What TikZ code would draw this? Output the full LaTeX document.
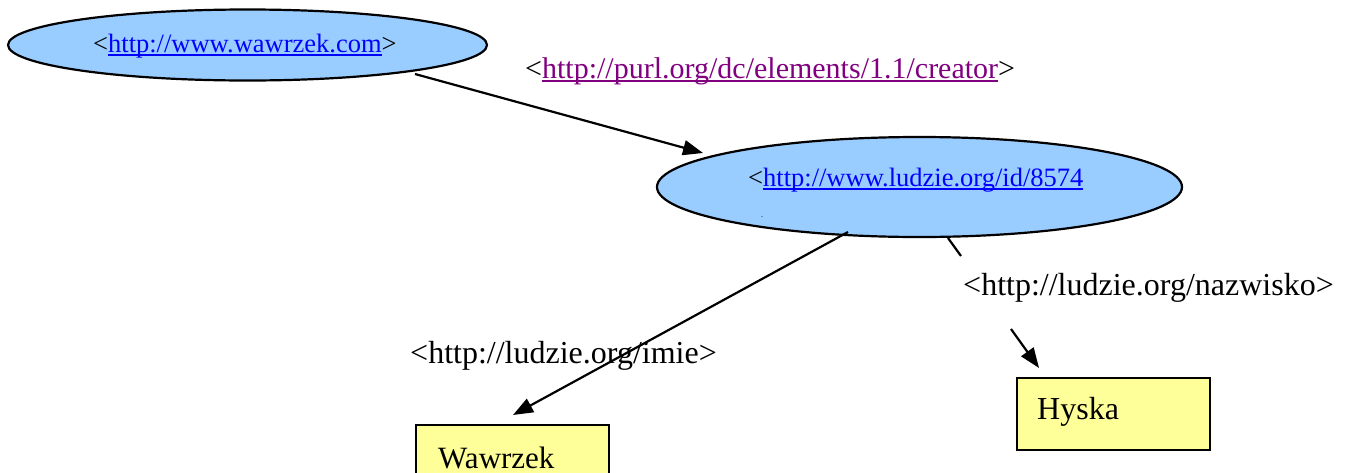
\documentclass[tikz,border=0pt]{standalone}
\usepackage{fontspec}
\setmainfont{Liberation Serif}
\usetikzlibrary{arrows.meta,shapes.geometric}
\definecolor{nodeblue}{RGB}{153,204,255}
\definecolor{lityellow}{RGB}{255,255,153}
\definecolor{linkblue}{RGB}{0,0,255}
\definecolor{linkpurple}{RGB}{128,0,128}
% hyperlink text: coloured, with a rule just below the baseline
\newcommand{\lnk}[2]{\textcolor{#1}{\setbox0\hbox{#2}\rlap{\rule[-3.6pt]{\wd0}{1.8pt}}\box0}}
\begin{document}
\begin{tikzpicture}[x=1pt,y=-1pt,
  res/.style={ellipse, draw, line width=2.2pt, fill=nodeblue, inner sep=0},
  lit/.style={rectangle, draw, line width=2pt, fill=lityellow, inner sep=0, anchor=north west},
  lbl/.style={anchor=base west, inner sep=0, font=\fontsize{32}{38}\selectfont},
  utxt/.style={anchor=base west, inner sep=0, font=\fontsize{26.5}{32}\selectfont},
  edge/.style={line width=2.2pt, -{Triangle[length=20pt,width=15pt]}},
  plain/.style={line width=2.2pt}]
\useasboundingbox (0,0) rectangle (1350,472);
\clip (0,0) rectangle (1350,472);

% resources
\node[res, minimum width=479, minimum height=71] (site) at (247.5,45) {};
\node[res, minimum width=525, minimum height=100] (person) at (919.5,187) {};
\node[utxt] (siteuri) at (93,52) {<\lnk{linkblue}{http://www.wawrzek.com}>};
\node[utxt] (personuri) at (748,186) {<\lnk{linkblue}{http://www.ludzie.org/id/8574}};
\node[inner sep=0, font=\fontsize{8}{8}\selectfont, anchor=base] (dot) at (762,217) {.};

% literals
\node[lit, minimum width=193, minimum height=80] (wawrzek) at (415,424) {};
\node[lit, minimum width=193, minimum height=72] (hyska) at (1016,377) {};
\node[lbl, font=\fontsize{31}{36}\selectfont] (wawrzektxt) at (438,468) {Wawrzek};
\node[lbl] (hyskatxt) at (1037,419) {Hyska};

% predicate labels
\node[lbl, font=\fontsize{30}{36}\selectfont] (creator) at (525,78) {<\lnk{linkpurple}{http://purl.org/dc/elements/1.1/creator}>};
\node[lbl] (imie) at (410,363) {<http://ludzie.org/imie>};
\node[lbl] (nazwisko) at (963,295) {<http://ludzie.org/nazwisko>};

% connector end points
\coordinate (c1s) at (415,74);
\coordinate (c1e) at (703,153);
\coordinate (c2s) at (848,232);
\coordinate (c2e) at (513,415);
\coordinate (c3s) at (948,238);
\coordinate (c3e) at (961,256);
\coordinate (c4s) at (1011,329);
\coordinate (c4e) at (1039,368);

\draw[edge] (c1s) -- (c1e);
\draw[edge] (c2s) -- (c2e);
\draw[plain] (c3s) -- (c3e);
\draw[edge] (c4s) -- (c4e);
\end{tikzpicture}
\end{document}
